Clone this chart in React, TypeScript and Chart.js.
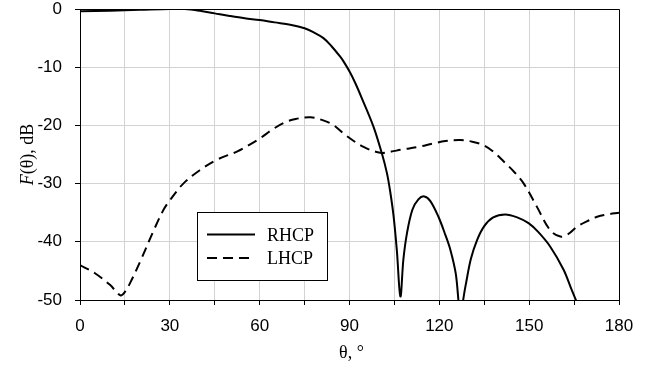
import React, { useEffect, useRef } from "react";
import { Chart, registerables } from "chart.js";

Chart.register(...registerables);

const rhcpTheta = [0, 10, 20, 30, 35, 40, 45, 50, 55, 60, 65, 70.2, 75, 78, 81.3, 84, 86.9, 88, 90.2, 92, 94.1, 98, 100.8, 102.5, 103.6, 104.7, 105.8, 107, 108, 109.2, 111, 113, 115, 117, 119.7, 122, 123.7, 125.5, 127, 128.7, 130.5, 132.6, 135, 138, 142, 146, 149.8, 153, 157, 161.5, 164, 166];
const rhcpDb = [-0.4, -0.3, -0.15, 0, 0, -0.3, -0.75, -1.2, -1.6, -1.9, -2.3, -2.7, -3.3, -4.0, -5.0, -6.4, -8.2, -9.0, -10.9, -12.8, -15.3, -20.2, -24.8, -28.2, -31.4, -35.5, -41.4, -49.4, -43, -38.5, -34.5, -32.7, -32.2, -33, -35.7, -38.8, -41.4, -45.5, -52, -47.7, -43, -39.7, -37.3, -35.8, -35.3, -35.8, -36.8, -38.3, -40.8, -44.8, -48, -50.5];

const lhcpTheta = [0, 5, 10, 13.5, 15, 17, 20, 25, 27.9, 30.1, 34.5, 40, 45.7, 52.4, 56, 60.2, 64, 67.9, 72, 77, 81, 84.5, 89, 94.7, 100.3, 104, 107, 113, 118, 122, 127, 131, 134.8, 138, 141.5, 145, 148.2, 152.6, 157, 160.4, 163, 166, 170, 172.7, 176, 180];
const lhcpDb = [-44, -45.4, -47.4, -49.2, -48.6, -46.8, -43.5, -37.6, -34.5, -32.8, -30, -27.7, -25.9, -24.5, -23.5, -22.2, -20.8, -19.6, -18.9, -18.6, -19.1, -19.9, -21.8, -23.7, -24.7, -24.5, -24.2, -23.7, -23.1, -22.7, -22.5, -22.8, -23.4, -24.5, -26.2, -28, -30, -34, -38, -39.1, -38.7, -37.4, -36.3, -35.7, -35.3, -35];

const xTicksMin = 0;
const xTicksMax = 180;
const xStep = 15;
const xLabelStep = 30;
const yMin = -50;
const yMax = 0;
const yStep = 10;

const seriesNames = ["RHCP", "LHCP"];
const xTitle = "θ, °";
const yTitleItalic = "F";
const yTitleRest = "(θ), dB";

const SANS = "'Liberation Sans', Arial, sans-serif";
const SERIF = "'Liberation Serif', 'Times New Roman', serif";

export default function App() {
  const ref = useRef<HTMLCanvasElement | null>(null);

  useEffect(() => {
    document.body.style.margin = "0";
    const canvas = ref.current;
    if (!canvas) return;

    const decor = {
      id: "decor",
      afterDatasetsDraw(chart: any) {
        const { ctx, chartArea } = chart;
        const { left, right, top, bottom } = chartArea;
        ctx.save();
        // frame
        ctx.strokeStyle = "#000";
        ctx.lineWidth = 1;
        ctx.beginPath();
        ctx.moveTo(Math.round(left) + 0.5, Math.round(top) + 0.5);
        ctx.lineTo(Math.round(right) + 0.5, Math.round(top) + 0.5);
        ctx.lineTo(Math.round(right) + 0.5, Math.round(bottom) + 0.5);
        ctx.stroke();

        // legend
        const bx = left + 117.5;
        const by = top + 203.5;
        const bw = 130;
        const bh = 68;
        ctx.fillStyle = "#fff";
        ctx.fillRect(bx, by, bw, bh);
        ctx.strokeStyle = "#000";
        ctx.lineWidth = 1;
        ctx.strokeRect(bx, by, bw, bh);
        ctx.lineWidth = 2;
        ctx.beginPath();
        ctx.moveTo(left + 127, top + 225.5);
        ctx.lineTo(left + 175, top + 225.5);
        ctx.stroke();
        ctx.setLineDash([10, 6]);
        ctx.beginPath();
        ctx.moveTo(left + 127, top + 249);
        ctx.lineTo(left + 175, top + 249);
        ctx.stroke();
        ctx.setLineDash([]);
        ctx.fillStyle = "#000";
        ctx.font = `18px ${SERIF}`;
        ctx.textAlign = "left";
        ctx.textBaseline = "middle";
        ctx.fillText(seriesNames[0], left + 187, top + 227);
        ctx.fillText(seriesNames[1], left + 187, top + 250);

        // x title
        ctx.textAlign = "center";
        ctx.fillText(xTitle, (left + right) / 2 + 2, 353);

        // y title
        ctx.translate(28, (top + bottom) / 2);
        ctx.rotate(-Math.PI / 2);
        ctx.font = `italic 18px ${SERIF}`;
        const w1 = ctx.measureText(yTitleItalic).width;
        ctx.font = `18px ${SERIF}`;
        const w2 = ctx.measureText(yTitleRest).width;
        const start = -(w1 + w2) / 2;
        ctx.textAlign = "left";
        ctx.font = `italic 18px ${SERIF}`;
        ctx.fillText(yTitleItalic, start, 0);
        ctx.font = `18px ${SERIF}`;
        ctx.fillText(yTitleRest, start + w1, 0);
        ctx.restore();
      },
    };

    const zeroPad = (scale: any) => {
      scale.paddingTop = 0;
      scale.paddingBottom = 0;
      scale.paddingLeft = 0;
      scale.paddingRight = 0;
    };

    const chart = new Chart(canvas, {
      type: "line",
      data: {
        datasets: [
          {
            label: seriesNames[0],
            data: rhcpTheta.map((x, i) => ({ x, y: rhcpDb[i] })),
            borderColor: "#000",
            borderWidth: 2,
            pointRadius: 0,
            tension: 0.35,
            fill: false,
          },
          {
            label: seriesNames[1],
            data: lhcpTheta.map((x, i) => ({ x, y: lhcpDb[i] })),
            borderColor: "#000",
            borderWidth: 2,
            borderDash: [10, 6],
            pointRadius: 0,
            tension: 0.35,
            fill: false,
          },
        ],
      },
      options: {
        responsive: false,
        animation: false,
        devicePixelRatio: 1,
        layout: { padding: { left: 0, top: 9, right: 32, bottom: 0 } },
        plugins: {
          legend: { display: false },
          tooltip: { enabled: false },
          title: { display: false },
        },
        scales: {
          x: {
            type: "linear",
            min: xTicksMin,
            max: xTicksMax,
            afterFit: (s: any) => {
              s.height = 67;
              zeroPad(s);
            },
            ticks: {
              stepSize: xStep,
              autoSkip: false,
              maxRotation: 0,
              padding: 11,
              color: "#000",
              font: { family: SANS, size: 17 },
              callback: (v: any) => (Number(v) % xLabelStep === 0 ? String(v) : ""),
            },
            grid: {
              color: "#d3d3d3",
              lineWidth: 1,
              tickLength: 5,
              tickColor: "#000",
            },
            border: { color: "#000", width: 1 },
          },
          y: {
            type: "linear",
            min: yMin,
            max: yMax,
            afterFit: (s: any) => {
              s.width = 80;
              zeroPad(s);
            },
            ticks: {
              stepSize: yStep,
              padding: 13,
              color: "#000",
              font: { family: SANS, size: 17 },
            },
            grid: {
              color: "#d3d3d3",
              lineWidth: 1,
              tickLength: 5,
              tickColor: "#000",
            },
            border: { color: "#000", width: 1 },
          },
        },
      },
      plugins: [decor],
    } as any);

    return () => chart.destroy();
  }, []);

  return <canvas ref={ref} width={651} height={367} style={{ display: "block" }} />;
}
